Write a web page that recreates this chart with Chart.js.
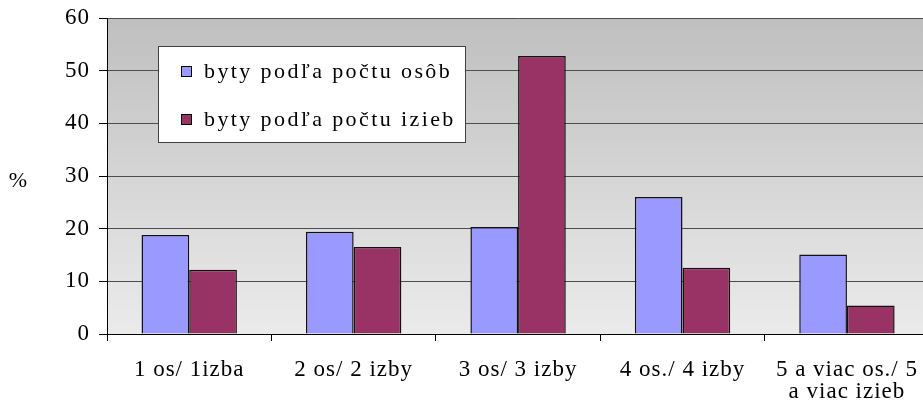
<!DOCTYPE html>
<html>
<head>
<meta charset="utf-8">
<script src="https://cdn.jsdelivr.net/npm/chart.js@4/dist/chart.umd.min.js"></script>
<style>
html,body{margin:0;padding:0;background:#fff;overflow:hidden;}
#wrap{width:936px;height:414px;}
.pre{font-family:'Liberation Serif';position:absolute;left:-1000px;top:-1000px;}
</style>
</head>
<body>
<span class="pre">byty podľa počtu 0123456789 %</span>
<div id="wrap"><canvas id="c" width="936" height="414"></canvas></div>
<script>
const categories = ['1 os/ 1izba', '2 os/ 2 izby', '3 os/ 3 izby', '4 os./ 4 izby', ['5 a viac os./ 5', 'a viac izieb']];
const seriesNames = ['byty podľa počtu osôb', 'byty podľa počtu izieb'];
const bytyPodlaOsob = [18.8, 19.4, 20.3, 26.0, 15.1];
const bytyPodlaIzieb = [12.2, 16.5, 52.8, 12.6, 5.4];
const yTicks = [0, 10, 20, 30, 40, 50, 60];
const yTitle = '%';

const FONT = "'Liberation Serif', 'Times New Roman', serif";
const SPACING = '1px';

const spacingPlugin = {
  id: 'spacing',
  beforeUpdate(chart){ chart.ctx.letterSpacing = SPACING; },
  beforeDraw(chart){ chart.ctx.letterSpacing = SPACING; }
};

const bgPlugin = {
  id: 'bg',
  beforeDraw(chart){
    const {ctx, chartArea:a} = chart;
    ctx.save();
    const g = ctx.createLinearGradient(0, a.top, 0, a.bottom);
    g.addColorStop(0, '#bfbfbf');
    g.addColorStop(1, '#ebebeb');
    ctx.fillStyle = g;
    ctx.fillRect(a.left, a.top, a.right - a.left, a.bottom - a.top);
    ctx.restore();
  }
};

const legendPlugin = {
  id: 'boxLegend',
  afterDatasetsDraw(chart){
    const ctx = chart.ctx;
    ctx.save();
    ctx.letterSpacing = '2.4px';
    ctx.fillStyle = '#ffffff';
    ctx.fillRect(158.5, 46.5, 307, 96);
    ctx.strokeStyle = '#404040';
    ctx.lineWidth = 1;
    ctx.strokeRect(158.5, 46.5, 307, 96);
    const ys = [72, 120];
    chart.data.datasets.forEach((ds, i) => {
      const y = ys[i];
      ctx.fillStyle = ds.backgroundColor;
      ctx.fillRect(182, y - 5, 9, 9);
      ctx.strokeStyle = '#000';
      ctx.lineWidth = 1;
      ctx.strokeRect(181.5, y - 5.5, 10, 10);
      ctx.fillStyle = '#000';
      ctx.font = '22px ' + FONT;
      ctx.textAlign = 'left';
      ctx.textBaseline = 'middle';
      ctx.fillText(ds.label, 204, y);
    });
    ctx.letterSpacing = '0px';
    ctx.font = '22px ' + FONT;
    ctx.textAlign = 'center';
    ctx.textBaseline = 'middle';
    ctx.fillText(yTitle, 18, 181);
    ctx.restore();
  }
};

function build(){
new Chart(document.getElementById('c'), {
  type: 'bar',
  data: {
    labels: categories,
    datasets: [
      {label: seriesNames[0], data: bytyPodlaOsob, backgroundColor: '#9999ff', borderColor: '#111', borderWidth: 1.5, categoryPercentage: 0.58, barPercentage: 1.0},
      {label: seriesNames[1], data: bytyPodlaIzieb, backgroundColor: '#993366', borderColor: '#111', borderWidth: 1.5, categoryPercentage: 0.58, barPercentage: 1.0}
    ]
  },
  options: {
    responsive: false,
    animation: false,
    devicePixelRatio: 1,
    layout: {padding: {top: 18, left: 0, right: 0, bottom: 0}},
    plugins: {legend: {display: false}, tooltip: {enabled: false}},
    scales: {
      x: {
        grid: {display: true, drawOnChartArea: false, drawTicks: true, tickLength: 7, offset: true, color: '#000', tickColor: '#000'},
        border: {display: true, color: '#000', width: 1},
        ticks: {color: '#000', font: {family: FONT, size: 23, lineHeight: 0.96}, padding: 18, maxRotation: 0, autoSkip: false},
        afterFit(s){ s.height = 80; }
      },
      y: {
        min: 0, max: 60,
        afterBuildTicks(s){ s.ticks = yTicks.map(v => ({value: v})); },
        grid: {color: '#4d4d4d', lineWidth: 1, drawTicks: true, tickLength: 8, tickColor: '#000'},
        border: {display: true, color: '#000', width: 1},
        ticks: {color: '#000', font: {family: FONT, size: 23, lineHeight: 0.6}, padding: 9},
        afterFit(s){ s.width = 107; s.paddingTop = 0; s.paddingBottom = 0; }
      }
    }
  },
  plugins: [spacingPlugin, bgPlugin, legendPlugin]
});
}
Promise.all([
  document.fonts.load("20px 'Liberation Serif'", 'byty podľa počtu 0123456789 %'),
  document.fonts.load("22px 'Liberation Serif'", 'byty podľa počtu osôb')
]).then(build, build);
</script>
</body>
</html>
